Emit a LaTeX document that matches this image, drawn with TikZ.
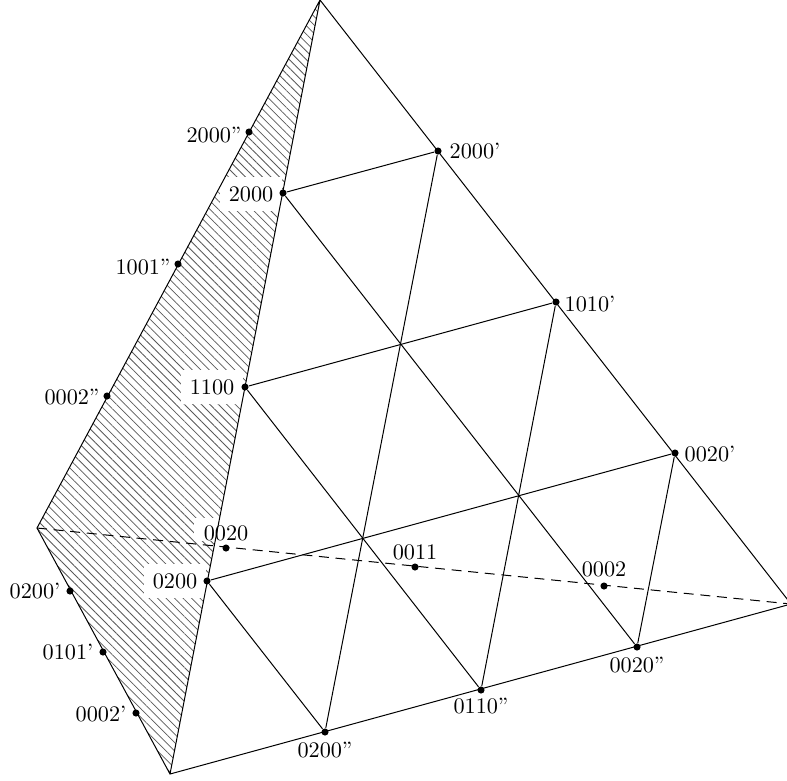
\documentclass[tikz,border=0pt]{standalone}
\usetikzlibrary{patterns.meta}
\tikzset{
  pt/.style={circle,fill=black,inner sep=0pt,minimum size=3.2pt},
  lab/.style={inner sep=0pt,font=\normalsize},
  wlab/.style={fill=white,inner xsep=4pt,inner ysep=4pt,font=\normalsize},
  wtop/.style={fill=white,inner xsep=4.4pt,inner ysep=0pt,text height=10pt,text depth=0pt,anchor=south,font=\normalsize},
  edge/.style={draw=black,line width=0.45pt},
  hatch/.style={pattern={Lines[angle=-45,distance=2.7pt,line width=0.35pt]},pattern color=black!65}
}
\begin{document}
\begin{tikzpicture}[x=0.45pt,y=-0.45pt]
\useasboundingbox (0,0) rectangle (787,780);
% vertices
\coordinate (A) at (320,0);
\coordinate (L) at (37,528);
\coordinate (B) at (170,774);
\coordinate (R) at (791,604);
\fill[hatch] (A) -- (L) -- (B) -- cycle;
% white labels
\node[wlab] (l2000) at (251,194) {2000};
\node[wlab] (l1100) at (212,387) {1100};
\node[wlab] (l0200) at (175,581) {0200};
\node[wtop] (l0020) at (226,541) {0020};
% points
\node[pt] (p2000) at (283,193) {};
\node[pt] (p1100) at (245,387) {};
\node[pt] (p0200) at (207,581) {};
\node[pt] (a2000) at (438,151) {};
\node[pt] (a1010) at (556,302) {};
\node[pt] (a0020) at (675,453) {};
\node[pt] (b0200) at (325,732) {};
\node[pt] (b0110) at (481,690) {};
\node[pt] (b0020) at (637,647) {};
\node[pt] (c2000) at (249,132) {};
\node[pt] (c1001) at (178,264) {};
\node[pt] (c0002) at (107,396) {};
\node[pt] (d0200) at (70,591) {};
\node[pt] (d0101) at (103,652) {};
\node[pt] (d0002) at (136,713) {};
\node[pt] (e0020) at (226,548) {};
\node[pt] (e0011) at (415,567) {};
\node[pt] (e0002) at (604,586) {};
% outline
\draw[edge] (A) -- (L) -- (B) -- (R) -- (A) (A) -- (B);
\draw[edge,dash pattern=on 4.5pt off 3pt] (L) -- (R);
% grid
\draw[edge] (p2000) -- (a2000);
\draw[edge] (p1100) -- (a1010);
\draw[edge] (p0200) -- (a0020);
\draw[edge] (a2000) -- (b0200);
\draw[edge] (a1010) -- (b0110);
\draw[edge] (a0020) -- (b0020);
\draw[edge] (p2000) -- (b0020);
\draw[edge] (p1100) -- (b0110);
\draw[edge] (p0200) -- (b0200);
% plain labels
\node[lab] at (475,151) {2000'};
\node[lab] at (590,304) {1010'};
\node[lab] at (710,454) {0020'};
\node[lab] at (325,750) {0200''};
\node[lab] at (481,706) {0110''};
\node[lab] at (637,665) {0020''};
\node[lab] at (214,135) {2000''};
\node[lab] at (143,267) {1001''};
\node[lab] at (72,397) {0002''};
\node[lab] at (35,591) {0200'};
\node[lab] at (68,652) {0101'};
\node[lab] at (101,714) {0002'};
\node[lab] at (415,552) {0011};
\node[lab] at (604,569) {0002};
\end{tikzpicture}
\end{document}
